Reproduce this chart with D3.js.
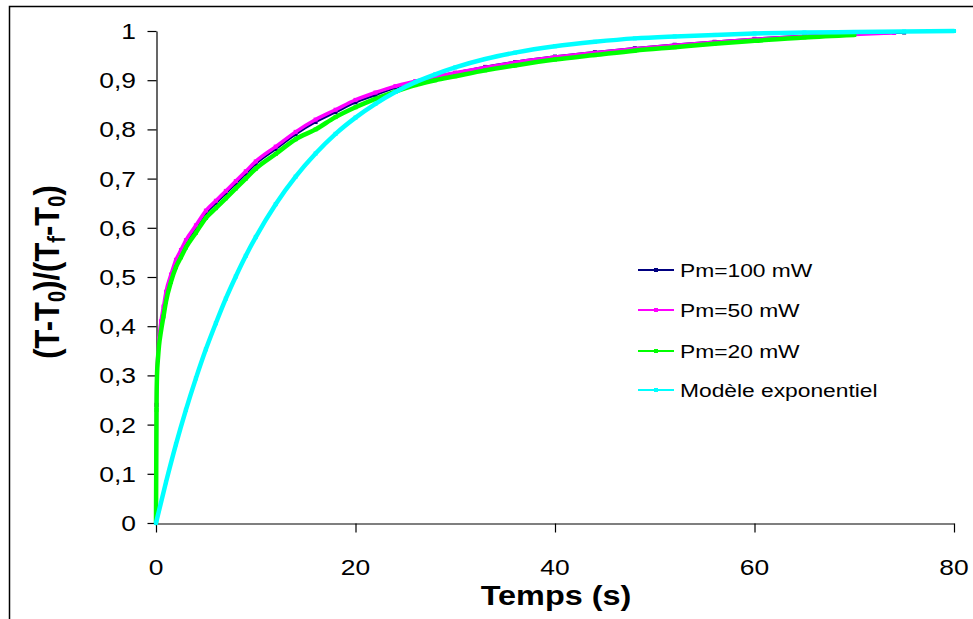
<!DOCTYPE html>
<html>
<head>
<meta charset="utf-8">
<script src="https://cdn.jsdelivr.net/npm/d3@7"></script>
<style>
  html, body { margin: 0; padding: 0; background: #fff; }
  svg { display: block; }
  text { font-family: "Liberation Sans", Arial, sans-serif; fill: #000; }
</style>
</head>
<body>
<svg id="chart" width="973" height="619"></svg>
<script>
// ---- data ----
const timeExp = [0, 0.05, 0.1, 0.2, 0.3, 0.5, 0.75, 1, 1.5, 2, 2.5, 3, 4, 5, 6, 7, 8, 9, 10, 12, 14, 16, 18, 20, 22, 24, 26, 28, 30, 33, 36, 40, 44, 48, 52, 56, 60, 65, 70, 75];
const pm100 = [0, 0.24, 0.30, 0.34, 0.37, 0.40, 0.43, 0.46, 0.50, 0.53, 0.55, 0.57, 0.60, 0.63, 0.65, 0.67, 0.69, 0.71, 0.73, 0.76, 0.79, 0.815, 0.835, 0.855, 0.87, 0.885, 0.897, 0.907, 0.915, 0.927, 0.937, 0.948, 0.957, 0.965, 0.972, 0.978, 0.984, 0.99, 0.994, 0.997];
const timePm50 = [0, 0.05, 0.1, 0.2, 0.3, 0.5, 0.75, 1, 1.5, 2, 2.5, 3, 4, 5, 6, 7, 8, 9, 10, 12, 14, 16, 18, 20, 22, 24, 26, 28, 30, 33, 36, 40, 44, 48, 52, 56, 60, 65, 70, 74];
const pm50  = [0, 0.24, 0.31, 0.345, 0.375, 0.41, 0.44, 0.47, 0.505, 0.535, 0.555, 0.575, 0.605, 0.635, 0.655, 0.675, 0.695, 0.715, 0.735, 0.765, 0.795, 0.82, 0.84, 0.86, 0.875, 0.888, 0.898, 0.907, 0.915, 0.926, 0.936, 0.947, 0.956, 0.964, 0.971, 0.977, 0.983, 0.989, 0.993, 0.996];
const timePm20 = [0, 0.05, 0.1, 0.2, 0.3, 0.5, 0.75, 1, 1.5, 2, 2.5, 3, 4, 5, 6, 7, 8, 9, 10, 12, 14, 16, 18, 20, 22, 24, 26, 28, 30, 33, 36, 40, 44, 48, 52, 56, 60, 65, 70];
const pm20  = [0, 0.23, 0.30, 0.335, 0.36, 0.39, 0.42, 0.45, 0.49, 0.52, 0.54, 0.56, 0.59, 0.62, 0.64, 0.66, 0.68, 0.70, 0.72, 0.75, 0.78, 0.80, 0.825, 0.845, 0.862, 0.877, 0.89, 0.90, 0.908, 0.92, 0.93, 0.942, 0.951, 0.96, 0.967, 0.974, 0.98, 0.987, 0.992];
const timeModel = [0, 1, 2, 3, 4, 5, 6, 7, 8, 9, 10, 12, 14, 16, 18, 20, 22, 24, 26, 28, 30, 33, 36, 40, 44, 48, 52, 56, 60, 65, 70, 75, 80];
const model = [0, 0.083, 0.160, 0.230, 0.294, 0.353, 0.406, 0.456, 0.501, 0.543, 0.581, 0.648, 0.704, 0.751, 0.791, 0.824, 0.852, 0.876, 0.896, 0.912, 0.926, 0.943, 0.956, 0.969, 0.978, 0.985, 0.989, 0.992, 0.995, 0.997, 0.998, 0.999, 1.0];

const seriesNames = ["Pm=100 mW", "Pm=50 mW", "Pm=20 mW", "Modèle exponentiel"];
const seriesColors = ["#000080", "#FF00FF", "#00FF00", "#00FFFF"];
const xTicks = [0, 20, 40, 60, 80];
const yTicks = [0, 0.1, 0.2, 0.3, 0.4, 0.5, 0.6, 0.7, 0.8, 0.9, 1];
const xTitle = "Temps (s)";

// ---- build ----
const series = [
  { name: seriesNames[0], color: seriesColors[0], t: timeExp, v: pm100, w: 2.5 },
  { name: seriesNames[1], color: seriesColors[1], t: timePm50, v: pm50, w: 3.5 },
  { name: seriesNames[2], color: seriesColors[2], t: timePm20, v: pm20, w: 4.5 },
  { name: seriesNames[3], color: seriesColors[3], t: timeModel, v: model, w: 4.5 }
];

const svg = d3.select("#chart");
const SX = 1.2; // horizontal stretch of the reference's text

// outer frame (top and left edges visible)
svg.append("path").attr("d", "M9.5,619 V6.5 H973").attr("fill", "none").attr("stroke", "#000").attr("stroke-width", 1.5);

const x = d3.scaleLinear().domain([0, 80]).range([156, 954]);
const y = d3.scaleLinear().domain([0, 1]).range([523, 31]);

const fmt = d => String(d).replace(".", ",");

// axes
const xAxis = svg.append("g").attr("transform", "translate(0,523.5)")
  .call(d3.axisBottom(x).tickValues(xTicks).tickSize(9).tickSizeOuter(0).tickFormat(""));
const yAxis = svg.append("g").attr("transform", "translate(156.5,0)")
  .call(d3.axisLeft(y).tickValues(yTicks).tickSize(9).tickSizeOuter(0).tickFormat(""));
[xAxis, yAxis].forEach(g => {
  g.select(".domain").attr("stroke", "#000").attr("stroke-width", 1.2);
  g.selectAll(".tick line").attr("stroke", "#000").attr("stroke-width", 1.2);
});

// tick labels (stretched horizontally)
svg.append("g").selectAll("text").data(xTicks).join("text")
  .attr("transform", d => `translate(${x(d)},575) scale(${SX},1)`)
  .attr("text-anchor", "middle").attr("font-size", 22).text(d => fmt(d));
svg.append("g").selectAll("text").data(yTicks).join("text")
  .attr("transform", d => `translate(136,${y(d) + 8}) scale(${SX},1)`)
  .attr("text-anchor", "end").attr("font-size", 22).text(d => fmt(d));

// x title
svg.append("text").attr("transform", `translate(556,605) scale(${SX},1)`)
  .attr("text-anchor", "middle").attr("font-size", 27).attr("font-weight", "bold").text(xTitle);

// y title with subscripts
const yt = svg.append("text").attr("transform", "translate(59,272) scale(1.15,1) rotate(-90)")
  .attr("text-anchor", "middle").attr("font-size", 31).attr("font-weight", "bold");
const parts = [["(T-T", false], ["0", true], [")/(T", false], ["f", true], ["-T", false], ["0", true], [")", false]];
parts.forEach(([s, sub], i) => {
  const ts = yt.append("tspan").text(s);
  if (sub) ts.attr("font-size", 20).attr("dy", 5);
  else if (i > 0) ts.attr("dy", -5);
});

// lines
const line = d3.line().x(d => x(d[0])).y(d => y(d[1])).curve(d3.curveMonotoneX);
const plot = svg.append("g");
series.forEach(s => {
  const pts = s.t.map((t, i) => [t, s.v[i]]);
  plot.append("path").datum(pts).attr("d", line)
    .attr("fill", "none").attr("stroke", s.color).attr("stroke-width", s.w)
    .attr("stroke-linejoin", "round").attr("stroke-linecap", "round");
  plot.append("g").selectAll("rect").data(pts).join("rect")
    .attr("x", d => x(d[0]) - 2).attr("y", d => y(d[1]) - 2)
    .attr("width", 4).attr("height", 4).attr("fill", s.color);
});

// legend
const lg = svg.append("g");
const legY = [270, 310, 351, 390];
series.forEach((s, i) => {
  lg.append("line").attr("x1", 638).attr("x2", 674).attr("y1", legY[i]).attr("y2", legY[i])
    .attr("stroke", s.color).attr("stroke-width", 2);
  lg.append("rect").attr("x", 654).attr("y", legY[i] - 2).attr("width", 4).attr("height", 4).attr("fill", s.color);
  lg.append("text").attr("transform", `translate(680,${legY[i] + 7}) scale(${SX},1)`)
    .attr("font-size", 19).text(s.name);
});
</script>
</body>
</html>
